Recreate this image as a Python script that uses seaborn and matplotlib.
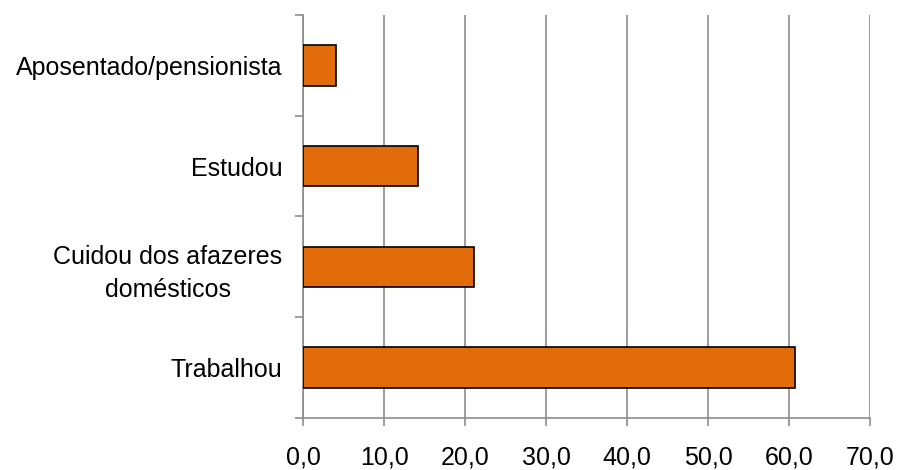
import pandas as pd
import seaborn as sns
import matplotlib.pyplot as plt
from matplotlib.ticker import FixedLocator, FuncFormatter

# Data
categories = ['Aposentado/pensionista', 'Estudou',
              'Cuidou dos afazeres\ndomésticos', 'Trabalhou']
values = [4.1, 14.2, 21.1, 60.7]
x_ticks = [0, 10, 20, 30, 40, 50, 60, 70]

df = pd.DataFrame({'categoria': categories, 'valor': values})

sns.set_theme(style='white')
plt.rcParams['font.family'] = ['Liberation Sans', 'DejaVu Sans']
plt.rcParams['text.color'] = 'black'
plt.rcParams['xtick.labelcolor'] = 'black'
plt.rcParams['ytick.labelcolor'] = 'black'

fig = plt.figure(figsize=(8.97, 4.70), dpi=100)
ax = fig.add_axes([0.338, 0.111, 0.632, 0.857])

grid_color = '#8c8c8c'

sns.barplot(data=df, x='valor', y='categoria', order=categories,
            color='#E36C0A', saturation=1, width=0.4,
            edgecolor='black', linewidth=1.2, ax=ax, zorder=3)

ax.set_xlim(0, 70)
ax.set_ylim(3.5, -0.5)
ax.set_xticks(x_ticks)
ax.xaxis.set_major_formatter(FuncFormatter(lambda v, p: f'{v:.1f}'.replace('.', ',')))
ax.xaxis.grid(True, color=grid_color, linewidth=1.2, zorder=0)
ax.set_axisbelow(True)

# category boundaries get the ticks, centres get the labels
ax.yaxis.set_major_locator(FixedLocator([-0.5, 0.5, 1.5, 2.5, 3.5]))
ax.yaxis.set_major_formatter(FuncFormatter(lambda v, p: ''))
ax.yaxis.set_minor_locator(FixedLocator([0, 1, 2, 3]))
ax.set_yticklabels(categories, minor=True)
for lbl in ax.get_yticklabels(minor=True):
    lbl.set_multialignment('center')
    lbl.set_linespacing(1.45)
    lbl.set_color('black')

ax.tick_params(axis='y', which='major', left=True, length=6, width=1.2,
               color=grid_color)
ax.tick_params(axis='y', which='minor', left=True, length=0, pad=15,
               labelsize=18, labelcolor='black')
ax.tick_params(axis='x', which='major', bottom=True, length=6, width=1.2,
               color=grid_color, pad=14, labelsize=18, labelcolor='black')

ax.set_xlabel('')
ax.set_ylabel('')
for side in ['top', 'right']:
    ax.spines[side].set_visible(False)
for side in ['left', 'bottom']:
    ax.spines[side].set_color(grid_color)
    ax.spines[side].set_linewidth(1.2)

fig.savefig('out.png', dpi=100)
